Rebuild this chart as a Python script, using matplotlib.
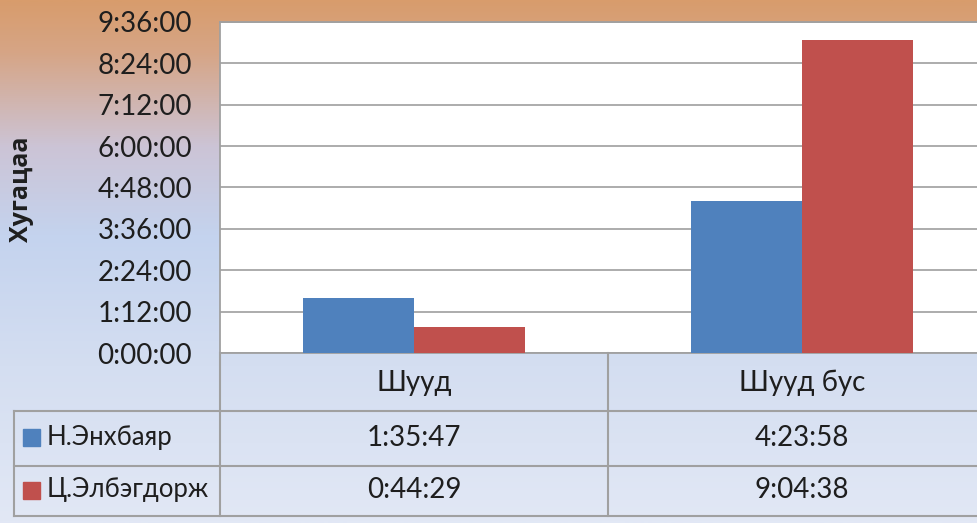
import matplotlib
matplotlib.use("Agg")
import matplotlib.pyplot as plt
import numpy as np
from matplotlib.colors import LinearSegmentedColormap
from matplotlib.lines import Line2D
from matplotlib.patches import Rectangle

# ---- data ----
categories = ["Шууд", "Шууд бус"]
series_names = ["Н.Энхбаяр", "Ц.Элбэгдорж"]
enkhbayar = ["1:35:47", "4:23:58"]
elbegdorj = ["0:44:29", "9:04:38"]
series_values = [enkhbayar, elbegdorj]
series_colors = ["#4F81BD", "#C0504D"]
y_label = "Хугацаа"
y_ticks_hours = [0, 1.2, 2.4, 3.6, 4.8, 6.0, 7.2, 8.4, 9.6]


def to_hours(s):
    h, m, sec = [int(p) for p in s.split(":")]
    return h + m / 60 + sec / 3600


def fmt(h):
    total = int(round(h * 3600))
    return f"{total // 3600}:{(total % 3600) // 60:02d}:{total % 60:02d}"


plt.rcParams['font.family'] = ['Lato', 'DejaVu Sans']
W, H = 977, 523
fig = plt.figure(figsize=(W / 100, H / 100), dpi=100)

# background gradient
bg = fig.add_axes([0, 0, 1, 1], zorder=-10)
bg.set_axis_off()
cmap = LinearSegmentedColormap.from_list(
    "bg",
    [(0.0, "#D89C6C"), (0.10, "#D6A586"), (0.28, "#CCC4D6"),
     (0.45, "#C4D3EE"), (0.70, "#D4DEF1"), (1.0, "#E2E8F5")])
grad = np.linspace(0, 1, 512).reshape(-1, 1)
bg.imshow(grad, aspect="auto", cmap=cmap, extent=[0, 1, 0, 1], origin="upper")
bg.set_xlim(0, 1)
bg.set_ylim(0, 1)

FS = 20
TXT = "#1E1E1E"

# main axes
left_px, right_px, top_px, bot_px = 220, 996, 22, 353
ax = fig.add_axes([left_px / W, 1 - bot_px / H, (right_px - left_px) / W,
                   (bot_px - top_px) / H])
ax.set_facecolor("white")
x = np.arange(len(categories))
bw = 0.286
for i, (vals, col) in enumerate(zip(series_values, series_colors)):
    hv = [to_hours(v) for v in vals]
    ax.bar(x + (i - 0.5) * bw, hv, width=bw, color=col, zorder=3)
ax.set_xlim(-0.5, len(categories) - 0.5)
ax.set_ylim(0, 9.6)
ax.set_yticks(y_ticks_hours)
ax.set_yticklabels([fmt(t) for t in y_ticks_hours], fontsize=FS, color=TXT)
ax.tick_params(axis="y", length=0, pad=20)
ax.set_xticks([])
ax.grid(axis="y", color="#A6A6A6", linewidth=1.3, zorder=0)
for s in ax.spines.values():
    s.set_color("#A0A0A0")
    s.set_linewidth(1.3)

fig.text(22 / W, 1 - 189 / H, y_label, rotation=90, fontsize=18, fontweight="bold",
         family=["Open Sans", "DejaVu Sans"],
         ha="center", va="center", color=TXT)

# data table
fig.canvas.draw()
cat_px = [ax.transData.transform((xi, 0))[0] for xi in x]
div_px = [ax.transData.transform((xi + 0.5, 0))[0] for xi in x[:-1]]
line_col = "#A0A0A0"
row_y = [353, 411, 466, 516]


def hline(y, x0, x1):
    fig.add_artist(Line2D([x0 / W, x1 / W], [1 - y / H, 1 - y / H],
                          color=line_col, linewidth=1.5))


def vline(xp, y0, y1):
    fig.add_artist(Line2D([xp / W, xp / W], [1 - y0 / H, 1 - y1 / H],
                          color=line_col, linewidth=1.5))


hline(row_y[1], 14, right_px)
hline(row_y[2], 14, right_px)
hline(row_y[3], 14, right_px)
vline(14, row_y[1], row_y[3])
vline(left_px, row_y[0], row_y[3])
for d in div_px:
    vline(d, row_y[0], row_y[3])

txt_kw = dict(color=TXT, va="center")
for cx, c in zip(cat_px, categories):
    fig.text(cx / W, 1 - ((row_y[0] + row_y[1]) / 2 + 1) / H, c, ha="center",
             fontsize=FS, **txt_kw)
for r, (name, vals, col) in enumerate(zip(series_names, series_values, series_colors)):
    yc = (row_y[r + 1] + row_y[r + 2]) / 2 - 1
    fig.add_artist(Rectangle((23 / W, 1 - (yc + 8.5) / H), 17 / W, 17 / H,
                             transform=fig.transFigure, color=col))
    fig.text(47 / W, 1 - yc / H, name, ha="left", fontsize=18.5, **txt_kw)
    for cx, v in zip(cat_px, vals):
        fig.text(cx / W, 1 - yc / H, v, ha="center", fontsize=FS, **txt_kw)

fig.savefig("out.png", dpi=100)
